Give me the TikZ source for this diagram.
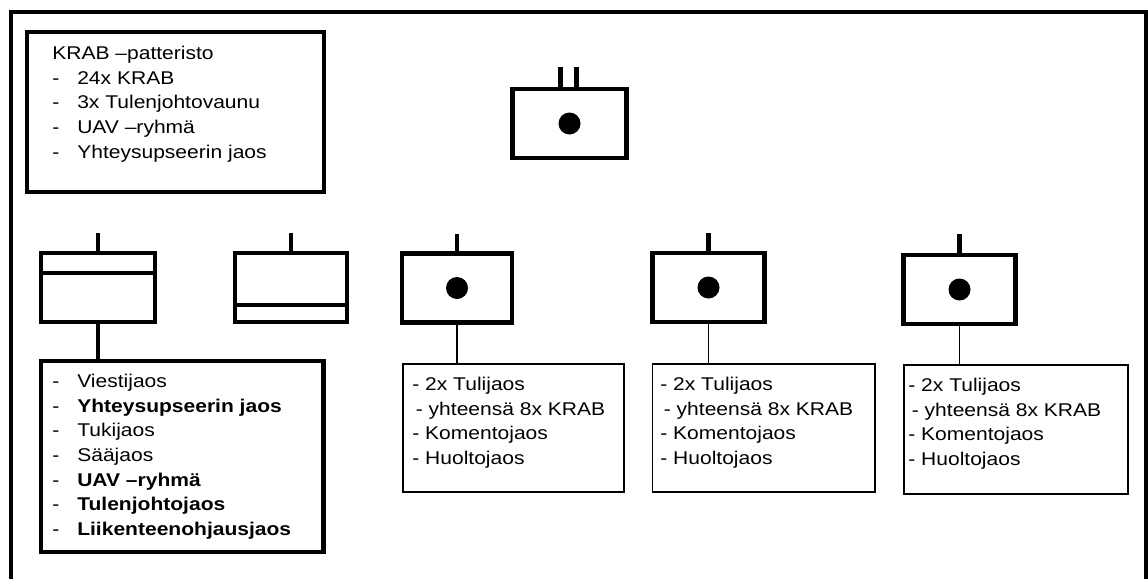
\documentclass[tikz,border=0pt]{standalone}
\usepackage{fontspec}
\setmainfont[FakeStretch=1.14]{Liberation Sans}
\newcommand{\itemdash}{\makebox[14.2pt][l]{-}}
\begin{document}
\begin{tikzpicture}[x=0.02cm, y=-0.02cm, line join=miter, font=\fontsize{10.5}{14}\selectfont,
  heavy/.style={line width=2.3pt},
  light/.style={line width=1.1pt},
  unit/.style={draw, heavy, rectangle, inner sep=0pt, outer sep=0pt, minimum width=112*\pix, minimum height=69*\pix},
  listbox/.style={draw, rectangle, inner sep=0pt, outer sep=0pt},
  list/.style={align=left, inner sep=0pt, anchor=north west},
  dot/.style={circle, fill, inner sep=0pt, minimum size=22*\pix}]
\def\pix{0.02cm}
\useasboundingbox (0,0) rectangle (1148,578);
\draw[heavy] (11,582)--(11,12)--(1145.5,12)--(1145.5,582);
% patteriston kokoonpano
\node[listbox, heavy, minimum width=297*\pix, minimum height=160*\pix] (info) at (175.5,112) {};
\node[list] (infotxt) at (52,46) {KRAB –patteristo\\ \itemdash 24x KRAB\\ \itemdash 3x Tulenjohtovaunu\\
 \itemdash UAV –ryhmä\\ \itemdash Yhteysupseerin jaos};
% patteri
\node[unit, minimum width=114*\pix] (hq) at (569.5,123.5) {};
\node[dot] (hqdot) at (hq) {};
\draw[heavy] ([xshift=-9*\pix]hq.north)--++(0,-22) ([xshift=7*\pix]hq.north)--++(0,-22);
% esikunta
\node[unit, minimum width=114*\pix] (esk) at (98,287.5) {};
\draw[heavy] ([yshift=-20*\pix]esk.north west)--([yshift=-20*\pix]esk.north east);
\draw[heavy] (esk.north)--++(0,-20);
\node[listbox, heavy, minimum width=282.5*\pix, minimum height=191*\pix] (eskbox) at (182.25,456.5) {};
\draw[heavy] (esk.south)--(esk.south |- eskbox.north);
\node[list] (esktxt) at (52,374) {\itemdash Viestijaos\\ \itemdash\textbf{Yhteysupseerin jaos}\\ \itemdash Tukijaos\\
 \itemdash Sääjaos\\ \itemdash\textbf{UAV –ryhmä}\\ \itemdash\textbf{Tulenjohtojaos}\\ \itemdash\textbf{Liikenteenohjausjaos}};
% huolto
\node[unit] (tuki) at (291,287.5) {};
\draw[heavy] ([yshift=17*\pix]tuki.south west)--([yshift=17*\pix]tuki.south east);
\draw[heavy] (tuki.north)--++(0,-20);
% tulipatterit
\node[unit, minimum width=110*\pix] (btr1) at (457,288) {};
\node[dot] (btr1dot) at (btr1) {};
\draw[heavy] (btr1.north)--++(0,-20);
\node[listbox, light, minimum width=221*\pix, minimum height=128*\pix] (btr1box) at (513.5,428) {};
\draw[light] (btr1.south)--(btr1.south |- btr1box.north);
\node[list] (btr1txt) at (412,377) {- 2x Tulijaos\\ \hspace*{2pt}- yhteensä 8x KRAB\\ - Komentojaos\\ - Huoltojaos};
\node[unit] (btr2) at (708.5,287.5) {};
\node[dot] (btr2dot) at (btr2) {};
\draw[heavy] (btr2.north)--++(0,-20);
\node[listbox, light, minimum width=222.5*\pix, minimum height=128*\pix] (btr2box) at (763.75,428) {};
\draw[light] (btr2.south)--(btr2.south |- btr2box.north);
\node[list] (btr2txt) at (660,377) {- 2x Tulijaos\\ \hspace*{2pt}- yhteensä 8x KRAB\\ - Komentojaos\\ - Huoltojaos};
\node[unit] (btr3) at (959.5,289.5) {};
\node[dot] (btr3dot) at (btr3) {};
\draw[heavy] (btr3.north)--++(0,-21);
\node[listbox, light, minimum width=224*\pix, minimum height=129*\pix] (btr3box) at (1016,429.5) {};
\draw[light] (btr3.south)--(btr3.south |- btr3box.north);
\node[list] (btr3txt) at (908,378) {- 2x Tulijaos\\ \hspace*{2pt}- yhteensä 8x KRAB\\ - Komentojaos\\ - Huoltojaos};
\end{tikzpicture}
\end{document}
